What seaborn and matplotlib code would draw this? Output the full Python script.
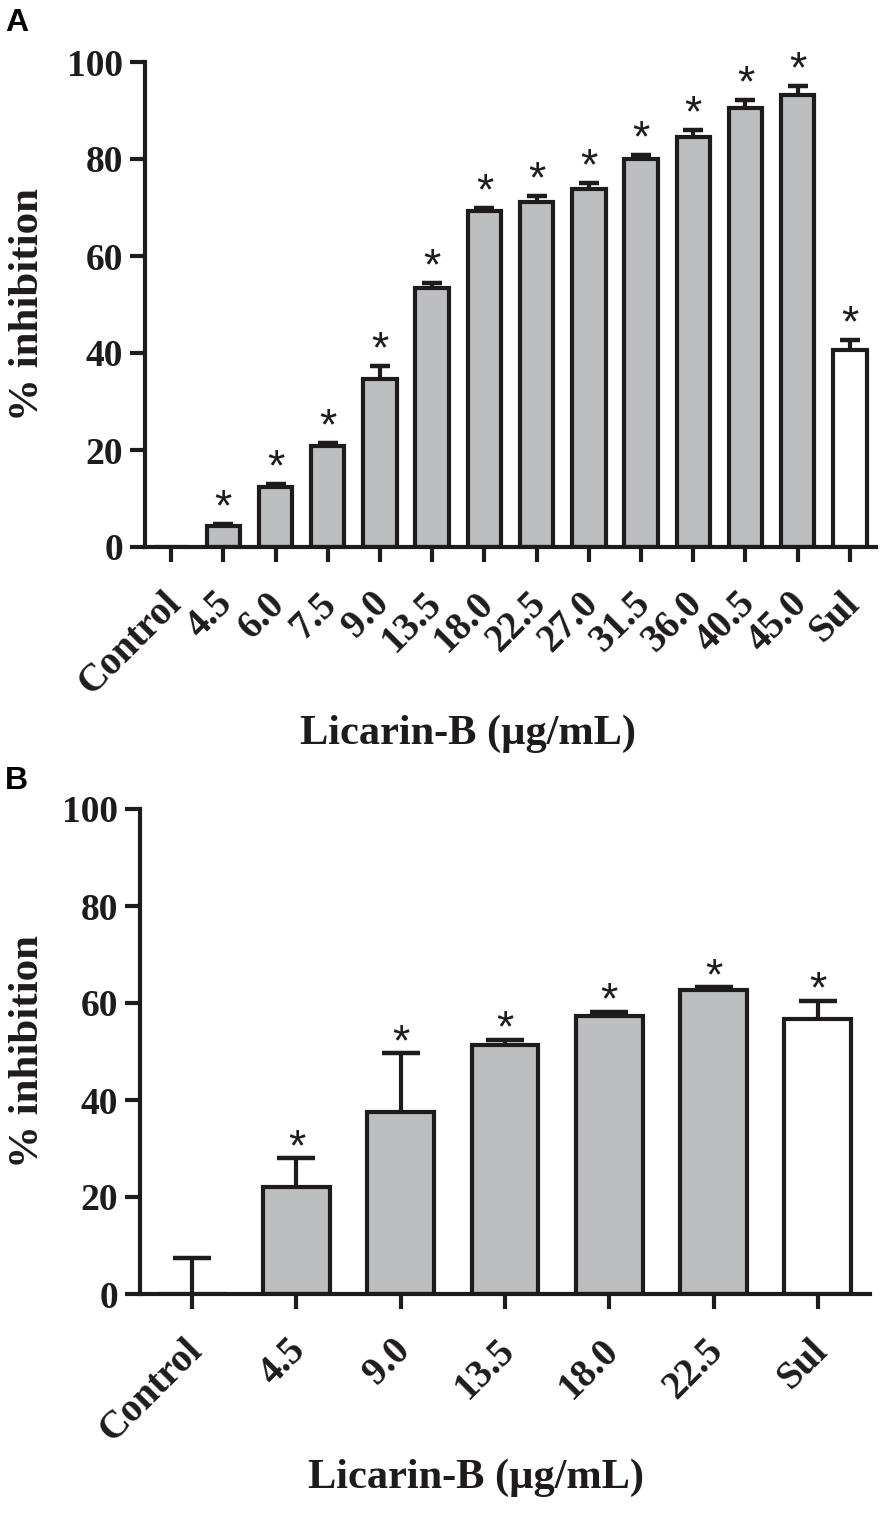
import numpy as np
import pandas as pd
import matplotlib
matplotlib.use('Agg')
import matplotlib.pyplot as plt
import matplotlib.transforms as mtransforms
import seaborn as sns

# Panel A data
cats_a = ['Control', '4.5', '6.0', '7.5', '9.0', '13.5', '18.0', '22.5',
          '27.0', '31.5', '36.0', '40.5', '45.0', 'Sul']
vals_a = [0.0, 4.3, 12.4, 20.8, 34.7, 53.5, 69.2, 71.1, 73.8, 80.1, 84.5, 90.5, 93.1, 40.6]
errs_a = [0.0, 0.4, 0.6, 0.6, 2.6, 0.9, 0.6, 1.3, 1.3, 0.7, 1.5, 1.7, 1.9, 2.0]
star_a = [False] + [True] * 13

# Panel B data
cats_b = ['Control', '4.5', '9.0', '13.5', '18.0', '22.5', 'Sul']
vals_b = [0.0, 22.1, 37.6, 51.3, 57.4, 62.6, 56.6]
errs_b = [7.4, 5.9, 12.0, 1.1, 0.8, 0.6, 3.8]
star_b = [False] + [True] * 6

GREY = '#bdbec0'
INK = '#1f1a1b'

sns.set_style('ticks')
plt.rcParams['font.family'] = ['Liberation Serif', 'DejaVu Serif']
plt.rcParams['font.weight'] = 'bold'

fig = plt.figure(figsize=(8.81, 15.14), dpi=100)
ax_a = fig.add_axes([145 / 881, 1 - 547 / 1514, 731 / 881, 485 / 1514])
ax_b = fig.add_axes([140 / 881, 1 - 1294 / 1514, 730 / 881, 485 / 1514])


def draw_panel(ax, cats, vals, errs, stars, capsize, star_off, xlab_pos, ylab_pos):
    df = pd.DataFrame({'group': cats, 'inhibition': vals})
    colors = {c: ('white' if c == 'Sul' else GREY) for c in cats}
    sns.barplot(data=df, x='group', y='inhibition', hue='group', order=cats,
                palette=colors, legend=False, errorbar=None, width=0.64,
                edgecolor=INK, linewidth=3, ax=ax)
    x = np.arange(len(cats))
    v = np.array(vals)
    e = np.array(errs)
    m = e > 0
    _, caps, _ = ax.errorbar(x[m], v[m], yerr=[np.zeros(m.sum()), e[m]], fmt='none',
                             ecolor=INK, elinewidth=3, capsize=capsize, capthick=3.2,
                             clip_on=False, zorder=3)
    caps[0].set_visible(False)
    for xi, top, s in zip(x, v + e, stars):
        if s:
            ax.annotate('*', (xi, top), xytext=(0, star_off), textcoords='offset points',
                        ha='center', va='center', fontsize=32, color=INK,
                        family=['Liberation Sans', 'DejaVu Sans'], fontweight='normal',
                        annotation_clip=False)
    ax.set_ylim(0, 100)
    ax.set_xlim(-0.5, len(cats) - 0.5)
    ax.set_yticks([0, 20, 40, 60, 80, 100])
    sns.despine(ax=ax)
    for sp in ('left', 'bottom'):
        ax.spines[sp].set_linewidth(3)
        ax.spines[sp].set_color(INK)
    ax.tick_params(axis='both', length=11, width=3, color=INK, labelcolor=INK)
    ax.tick_params(axis='y', pad=5, labelsize=27)
    ax.tick_params(axis='x', pad=26, labelsize=28)
    shift = mtransforms.ScaledTranslation(4 / 100, 0, fig.dpi_scale_trans)
    for lab in ax.get_xticklabels():
        lab.set_rotation(45)
        lab.set_ha('right')
        lab.set_va('center')
        lab.set_rotation_mode('anchor')
        lab.set_transform(lab.get_transform() + shift)
    ax.set_xlabel('Licarin-B (µg/mL)', fontsize=30.5, fontweight='bold', color=INK)
    ax.set_ylabel('% inhibition', fontsize=31, fontweight='bold', color=INK)
    ax.xaxis.set_label_coords(*xlab_pos)
    ax.yaxis.set_label_coords(*ylab_pos)


draw_panel(ax_a, cats_a, vals_a, errs_a, star_a, 7.2, 11, (0.442, -0.345), (-0.134, 0.5))
draw_panel(ax_b, cats_b, vals_b, errs_b, star_b, 13.5, 7, (0.460, -0.340), (-0.127, 0.5))

for lab, ytop in (('A', 8), ('B', 766)):
    fig.text(5 / 881, 1 - ytop / 1514, lab, ha='left', va='top', fontsize=23,
             fontweight='bold', family=['Liberation Sans', 'DejaVu Sans'], color='black')

fig.savefig('out.png', dpi=100, facecolor='white')
